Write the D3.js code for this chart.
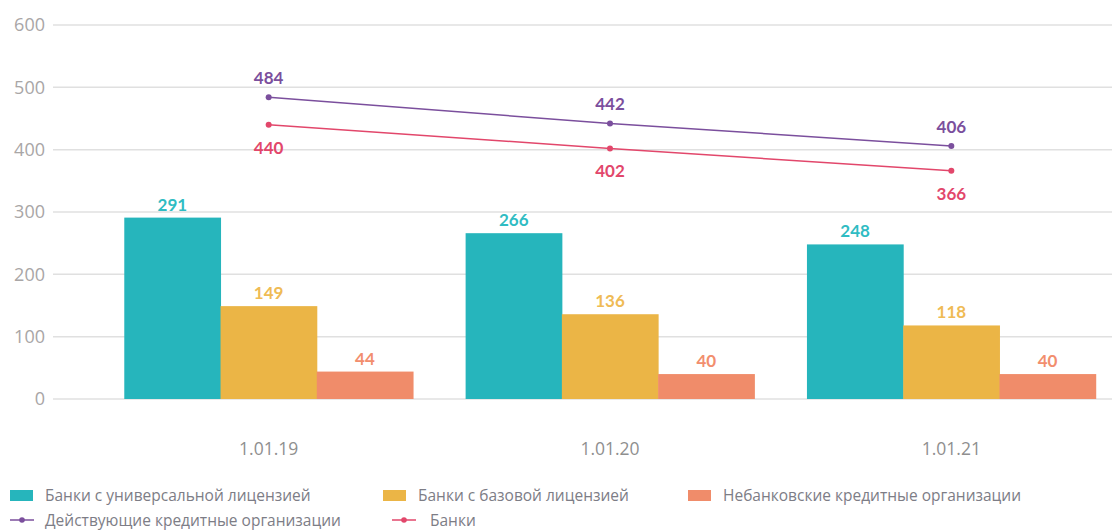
<!DOCTYPE html>
<html><head><meta charset="utf-8">
<script src="https://cdn.jsdelivr.net/npm/d3@7"></script>
<style>
body{margin:0;background:#fff;}
text{font-family:Lato,"Open Sans","Noto Sans",sans-serif;}
text.reg{font-family:"Open Sans","Noto Sans",sans-serif;}
</style></head>
<body><svg id="c" width="1112" height="530"></svg>
<script>
const categories = ["1.01.19","1.01.20","1.01.21"];
const universal = [291,266,248];
const basic = [149,136,118];
const nonbank = [44,40,40];
const activeOrgs = [484,442,406];
const banks = [440,402,366];
const yTicks = [0,100,200,300,400,500,600];

const barSeries = [
  {name:"Банки с универсальной лицензией", values:universal, color:"#26b5bc", label:"#2fbcc3"},
  {name:"Банки с базовой лицензией", values:basic, color:"#ebb546", label:"#efbb55"},
  {name:"Небанковские кредитные организации", values:nonbank, color:"#f08c6a", label:"#f28e6e"}
];
const lineSeries = [
  {name:"Действующие кредитные организации", values:activeOrgs, color:"#7b4f9d", pos:"above"},
  {name:"Банки", values:banks, color:"#e2476b", pos:"below"}
];

const svg = d3.select("#c");
const y = d3.scaleLinear().domain([0,600]).range([399,25]);
const x0 = d3.scaleBand().domain(categories).range([98,1122]).paddingInner(0.154).paddingOuter(0.077);
const x1 = d3.scaleBand().domain(barSeries.map(d=>d.name)).range([0,x0.bandwidth()]);

// grid
svg.append("g").selectAll("line").data(yTicks).join("line")
  .attr("x1",53).attr("x2",1112).attr("y1",d=>y(d)).attr("y2",d=>y(d))
  .attr("stroke","#e0e0e0").attr("stroke-width",1.5);
svg.append("g").selectAll("text").data(yTicks).join("text").attr("class","reg")
  .attr("x",45).attr("y",d=>y(d)).attr("dy","0.36em").attr("text-anchor","end")
  .attr("fill","#a9a6a6").attr("font-size",18).text(d=>d);

// bars
barSeries.forEach(s=>{
  const g = svg.append("g");
  g.selectAll("rect").data(categories).join("rect")
    .attr("x",(c)=>x0(c)+x1(s.name)).attr("width",x1.bandwidth()+0.5)
    .attr("y",(c,i)=>y(s.values[i])).attr("height",(c,i)=>y(0)-y(s.values[i]))
    .attr("fill",s.color);
  g.selectAll("text").data(categories).join("text")
    .attr("x",c=>x0(c)+x1(s.name)+x1.bandwidth()/2).attr("y",(c,i)=>y(s.values[i])-7)
    .attr("text-anchor","middle").attr("fill",s.label).attr("font-size",17).attr("font-weight","bold")
    .text((c,i)=>s.values[i]);
});

// lines
const cx = c=>x0(c)+x0.bandwidth()/2;
lineSeries.forEach(s=>{
  const g = svg.append("g");
  g.append("path").datum(s.values)
    .attr("d",d3.line().x((v,i)=>cx(categories[i])).y(v=>y(v)))
    .attr("fill","none").attr("stroke",s.color).attr("stroke-width",1.5);
  g.selectAll("circle").data(s.values).join("circle")
    .attr("cx",(v,i)=>cx(categories[i])).attr("cy",v=>y(v)).attr("r",3).attr("fill",s.color);
  g.selectAll("text").data(s.values).join("text")
    .attr("x",(v,i)=>cx(categories[i])).attr("y",v=>s.pos==="above"?y(v)-13:y(v)+29)
    .attr("text-anchor","middle").attr("fill",s.color).attr("font-size",17).attr("font-weight","bold")
    .text(v=>v);
});

// category labels
svg.append("g").selectAll("text").data(categories).join("text").attr("class","reg")
  .attr("x",c=>cx(c)).attr("y",455).attr("text-anchor","middle")
  .attr("fill","#8f8f8f").attr("font-size",17.5).text(d=>d);

// legend
const leg = svg.append("g");
const barLegX = [10,383,688];
barSeries.forEach((s,i)=>{
  leg.append("rect").attr("x",barLegX[i]).attr("y",490).attr("width",23).attr("height",11).attr("fill",s.color);
  leg.append("text").attr("class","reg").attr("x",barLegX[i]+35).attr("y",495).attr("dy","0.36em")
    .attr("fill","#7d7d86").attr("font-size",15.5).text(s.name);
});
const lineLegX = [10,392];
const lineTextX = [45,430];
lineSeries.forEach((s,i)=>{
  leg.append("line").attr("x1",lineLegX[i]).attr("x2",lineLegX[i]+24).attr("y1",520).attr("y2",520)
    .attr("stroke",s.color).attr("stroke-width",1.5);
  leg.append("circle").attr("cx",lineLegX[i]+12).attr("cy",520).attr("r",2.8).attr("fill",s.color);
  leg.append("text").attr("class","reg").attr("x",lineTextX[i]).attr("y",520).attr("dy","0.36em")
    .attr("fill","#7d7d86").attr("font-size",15.5).text(s.name);
});
</script></body></html>
